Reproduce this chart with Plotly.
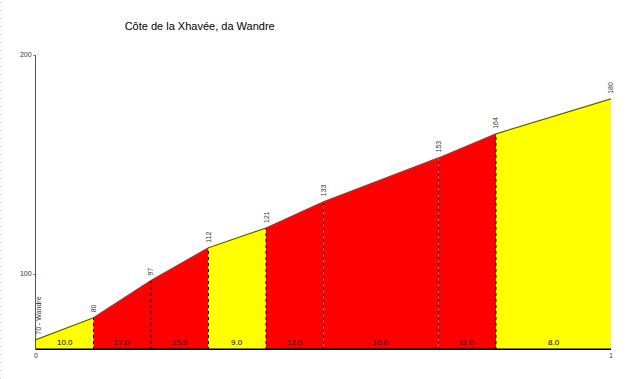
import plotly.graph_objects as go

title = "Côte de la Xhavée, da Wandre"
km = [0.0, 0.1, 0.2, 0.3, 0.4, 0.5, 0.7, 0.8, 1.0]
elev = [70, 80, 97, 112, 121, 133, 153, 164, 180]
grade = ["10.0", "17.0", "15.0", "9.0", "12.0", "10.0", "11.0", "8.0"]
colors = ["#FFFF00", "#FF0000", "#FF0000", "#FFFF00", "#FF0000", "#FF0000", "#FF0000", "#FFFF00"]
point_labels = ["70 - Wandre", "80", "97", "112", "121", "133", "153", "164", "180"]
ymin, ymax = 65.3, 200

fig = go.Figure()
for i in range(len(grade)):
    fig.add_trace(go.Scatter(
        x=[km[i], km[i], km[i+1], km[i+1], km[i]],
        y=[ymin, elev[i], elev[i+1], ymin, ymin],
        fill="toself", fillcolor=colors[i], mode="lines",
        line=dict(width=0), hoverinfo="skip", showlegend=False))

# profile outline
fig.add_trace(go.Scatter(x=km, y=elev, mode="lines",
                         line=dict(color="#555555", width=1.2), showlegend=False, hoverinfo="skip"))

# dotted verticals
for i in range(1, len(km) - 1):
    fig.add_trace(go.Scatter(x=[km[i], km[i]], y=[ymin, elev[i]], mode="lines",
                             line=dict(color="#000000", width=1, dash="dot"),
                             showlegend=False, hoverinfo="skip"))

# bottom bar
fig.add_trace(go.Scatter(x=[km[0], km[-1]], y=[ymin, ymin], mode="lines",
                         line=dict(color="#000000", width=3), showlegend=False, hoverinfo="skip"))

annotations = []
for i in range(len(grade)):
    annotations.append(dict(x=(km[i] + km[i+1]) / 2, y=ymin, yref="y", xref="x",
                            text=grade[i], showarrow=False, yanchor="bottom", yshift=1,
                            font=dict(family="Arial, Liberation Sans", size=8, color="#000000")))
for i, lab in enumerate(point_labels):
    annotations.append(dict(x=km[i], y=elev[i], text=lab, showarrow=False, textangle=-90,
                            xanchor="center", yanchor="bottom", yshift=3, xshift=3 if i == 0 else 0,
                            font=dict(family="Arial, Liberation Sans", size=7, color="#333333")))

# faint dotted page border on the left
shapes = [dict(type="line", xref="paper", yref="paper", x0=-35.5/575, x1=-35.5/575,
               y0=-29/295, y1=1 + 55/295, line=dict(color="#BBBBBB", width=1, dash="1px,7px"))]

fig.update_layout(
    width=640, height=379,
    margin=dict(l=36, r=29, t=55, b=29),
    paper_bgcolor="white", plot_bgcolor="white",
    title=dict(text=title, x=0.312, xanchor="center", y=0.93, yanchor="middle",
               font=dict(family="Arial, Liberation Sans", size=11, color="#000000")),
    annotations=annotations,
    shapes=shapes,
    xaxis=dict(range=[0, 1], tickvals=[0, 1], ticktext=["0", "1"], showgrid=False, zeroline=False,
               showline=False, ticks="", tickfont=dict(family="Arial, Liberation Sans", size=7, color="#333333")),
    yaxis=dict(range=[ymin, ymax], tickvals=[100, 200], showgrid=False, zeroline=False,
               showline=True, linecolor="#555555", linewidth=1, ticks="outside", ticklen=2,
               tickcolor="#FF6666",
               tickfont=dict(family="Arial, Liberation Sans", size=7, color="#333333")),
)

fig.write_html("out.html")
